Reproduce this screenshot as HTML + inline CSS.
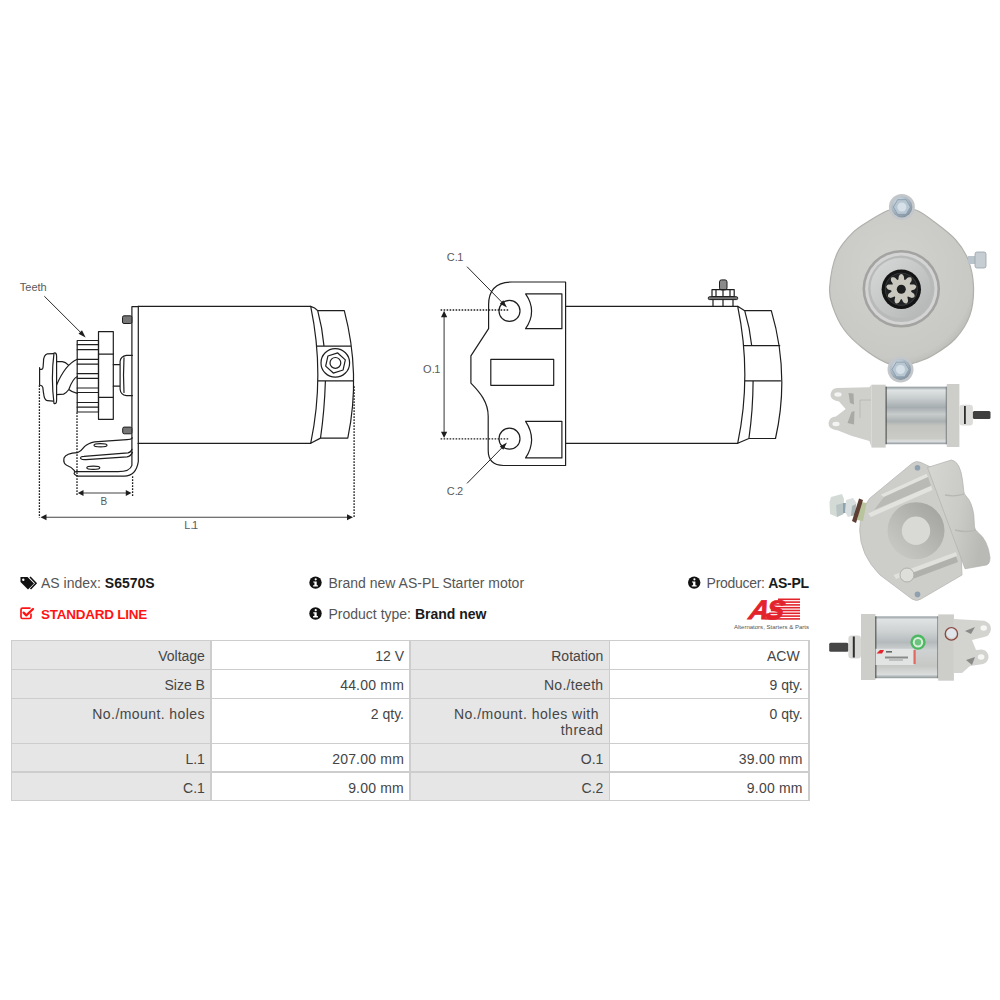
<!DOCTYPE html>
<html><head><meta charset="utf-8">
<style>
html,body{margin:0;padding:0;background:#fff;}
body{width:1000px;height:1000px;position:relative;overflow:hidden;font-family:"Liberation Sans",sans-serif;}
.t{position:absolute;white-space:nowrap;font-size:14px;line-height:16px;color:#555;}
.t b{color:#1a1a1a;font-weight:bold;}
.red{color:#ff1414;font-weight:bold;}
.c{position:absolute;box-sizing:border-box;font-size:14px;color:#454545;text-align:right;line-height:16px;}
svg{position:absolute;left:0;top:0;}
</style></head>
<body>
<div style="position:absolute;left:11.5px;top:640.5px;width:199.4px;height:160.0px;background:#e6e6e6"></div>
<div style="position:absolute;left:210.9px;top:640.5px;width:199.1px;height:160.0px;background:#ffffff"></div>
<div style="position:absolute;left:410.0px;top:640.5px;width:199.39999999999998px;height:160.0px;background:#e6e6e6"></div>
<div style="position:absolute;left:609.4px;top:640.5px;width:199.30000000000007px;height:160.0px;background:#ffffff"></div>
<div style="position:absolute;left:10.6px;top:639.6px;width:799.0px;height:1.8px;background:#cdcdcd"></div>
<div style="position:absolute;left:10.6px;top:668.6px;width:799.0px;height:1.8px;background:#cdcdcd"></div>
<div style="position:absolute;left:10.6px;top:697.6px;width:799.0px;height:1.8px;background:#cdcdcd"></div>
<div style="position:absolute;left:10.6px;top:742.6px;width:799.0px;height:1.8px;background:#cdcdcd"></div>
<div style="position:absolute;left:10.6px;top:771.1px;width:799.0px;height:1.8px;background:#cdcdcd"></div>
<div style="position:absolute;left:10.6px;top:799.6px;width:799.0px;height:1.8px;background:#cdcdcd"></div>
<div style="position:absolute;left:10.6px;top:639.6px;width:1.8px;height:161.8px;background:#cdcdcd"></div>
<div style="position:absolute;left:210.0px;top:639.6px;width:1.8px;height:161.8px;background:#cdcdcd"></div>
<div style="position:absolute;left:409.1px;top:639.6px;width:1.8px;height:161.8px;background:#cdcdcd"></div>
<div style="position:absolute;left:608.5px;top:639.6px;width:1.8px;height:161.8px;background:#cdcdcd"></div>
<div style="position:absolute;left:807.8000000000001px;top:639.6px;width:1.8px;height:161.8px;background:#cdcdcd"></div>
<div class="c" style="right:795.1px;top:648.45px;width:187.4px;">Voltage</div>
<div class="c" style="right:596.0px;top:648.45px;width:187.1px;">12 V</div>
<div class="c" style="right:396.6px;top:648.45px;width:187.39999999999998px;">Rotation</div>
<div class="c" style="right:200.29999999999995px;top:648.45px;width:187.30000000000007px;">ACW</div>
<div class="c" style="right:795.1px;top:677.45px;width:187.4px;">Size B</div>
<div class="c" style="right:596.0px;top:677.45px;width:187.1px;letter-spacing:0.2px;">44.00 mm</div>
<div class="c" style="right:396.6px;top:677.45px;width:187.39999999999998px;letter-spacing:0.3px;">No./teeth</div>
<div class="c" style="right:197.29999999999995px;top:677.45px;width:187.30000000000007px;">9 qty.</div>
<div class="c" style="right:795.1px;top:706.45px;width:187.4px;letter-spacing:0.42px;">No./mount. holes</div>
<div class="c" style="right:596.0px;top:706.45px;width:187.1px;">2 qty.</div>
<div class="c" style="right:396.6px;top:706.45px;width:187.39999999999998px;letter-spacing:0.5px;">No./mount. holes with&nbsp;<br>thread</div>
<div class="c" style="right:197.29999999999995px;top:706.45px;width:187.30000000000007px;">0 qty.</div>
<div class="c" style="right:795.1px;top:751.45px;width:187.4px;">L.1</div>
<div class="c" style="right:596.0px;top:751.45px;width:187.1px;letter-spacing:0.2px;">207.00 mm</div>
<div class="c" style="right:396.6px;top:751.45px;width:187.39999999999998px;">O.1</div>
<div class="c" style="right:197.29999999999995px;top:751.45px;width:187.30000000000007px;letter-spacing:0.2px;">39.00 mm</div>
<div class="c" style="right:795.1px;top:779.95px;width:187.4px;">C.1</div>
<div class="c" style="right:596.0px;top:779.95px;width:187.1px;letter-spacing:0.2px;">9.00 mm</div>
<div class="c" style="right:396.6px;top:779.95px;width:187.39999999999998px;">C.2</div>
<div class="c" style="right:197.29999999999995px;top:779.95px;width:187.30000000000007px;letter-spacing:0.2px;">9.00 mm</div>
<svg width="1000" height="1000" viewBox="0 0 1000 1000">
<g transform="translate(0,0.3)">
<path fill="none" stroke="#1e1e1e" stroke-width="1.2" stroke-linejoin="round" stroke-linecap="round" d="M138,306 L310.7,306 M138,443 L310.7,443"/>
<path fill="none" stroke="#1e1e1e" stroke-width="1.2" stroke-linejoin="round" stroke-linecap="round" d="M310.7,306 Q325,374.5 310.7,443 M310.7,306 Q315,307 317.7,310.3 Q322.5,328 324,345.8 M325.4,380.6 Q324.5,410 320.5,437.8 L310.7,443 M317.7,310.3 L344.3,310.3 Q361,374 347.8,437.8 L320.5,437.8 M316.6,345.8 L351.3,345.8 M317.8,380.6 L353.5,380.6"/>
<circle fill="none" stroke="#1e1e1e" stroke-width="1.2" stroke-linejoin="round" stroke-linecap="round" cx="335.3" cy="362.6" r="14.3"/>
<polygon fill="none" stroke="#1e1e1e" stroke-width="1.2" stroke-linejoin="round" stroke-linecap="round" points="337.71,352.64 345.32,359.59 343.11,369.65 333.29,372.76 325.68,365.81 327.89,355.75"/>
<circle fill="none" stroke="#1e1e1e" stroke-width="1.2" stroke-linejoin="round" stroke-linecap="round" cx="335.4" cy="362.6" r="5.4"/>
<path fill="none" stroke="#1e1e1e" stroke-width="1.2" stroke-linejoin="round" stroke-linecap="round" d="M131.9,306.4 L138.3,306.4 M138.3,306 L138.3,461.4 Q136,475.8 124.3,475.8 L78,475.8 Q73,474 74.4,472.2 M131.9,306.4 L131.9,465 Q130,471.3 118,471.3 L76.2,471.3"/>
<rect x="122.5" y="315.5" width="9.4" height="7.7" rx="1.5" fill="#777" stroke="#1e1e1e" stroke-width="1"/>
<rect x="122.7" y="426.8" width="9.2" height="6.7" rx="1.5" fill="#777" stroke="#1e1e1e" stroke-width="1"/>
<path fill="none" stroke="#1e1e1e" stroke-width="1.2" stroke-linejoin="round" stroke-linecap="round" d="M132.4,437.6 Q131,439.4 127,439.4 L94.6,441.6 Q88,443 84.7,446.1 Q81,451 77.5,452.4 Q66,453 64,457.8 Q63,463 66.7,465 Q72,467 74.4,470.4 Q74,472 76.2,471.3"/>
<path fill="none" stroke="#1e1e1e" stroke-width="1.2" stroke-linejoin="round" stroke-linecap="round" d="M80.7,458.3 Q80,456 84,456 L128,452.5 Q131,452 132,449 M80.7,458.3 Q82,459.5 86,459.3 L127,456.5 Q131,456 132.4,452"/>
<ellipse fill="none" stroke="#1e1e1e" stroke-width="1.2" stroke-linejoin="round" stroke-linecap="round" cx="100.5" cy="445" rx="6.5" ry="1.6"/>
<ellipse fill="none" stroke="#1e1e1e" stroke-width="1.2" stroke-linejoin="round" stroke-linecap="round" cx="93.3" cy="467.5" rx="6.5" ry="1.6"/>
<rect fill="none" stroke="#1e1e1e" stroke-width="1.2" stroke-linejoin="round" stroke-linecap="round" x="98.5" y="331.3" width="14.8" height="87.7"/>
<path fill="none" stroke="#1e1e1e" stroke-width="1.2" stroke-linejoin="round" stroke-linecap="round" d="M98.5,353.9 L113.3,353.9 M98.5,397 L113.3,397"/>
<rect fill="none" stroke="#1e1e1e" stroke-width="1.2" stroke-linejoin="round" stroke-linecap="round" x="77.2" y="340.2" width="21.3" height="71.5"/>
<path fill="none" stroke="#1e1e1e" stroke-width="1.2" stroke-linejoin="round" stroke-linecap="round" d="M77.2,344.4 L98.5,344.4 M77.2,349.4 L98.5,349.4 M77.2,359.1 L98.5,359.1 M77.2,363.9 L98.5,363.9 M77.2,373.3 L98.5,373.3 M77.2,378 L98.5,378 M77.2,387.7 L98.5,387.7 M77.2,392.2 L98.5,392.2 M77.2,402.2 L98.5,402.2 M77.2,406.9 L98.5,406.9"/>
<path fill="none" stroke="#1e1e1e" stroke-width="1.2" stroke-linejoin="round" stroke-linecap="round" d="M113.3,364.4 L120.1,364.4 M113.3,385.9 L120.1,385.9 M132.4,355 L126.4,355 Q120.6,356 120.1,361 L120.1,389 Q120.6,394.5 126.4,395.4 L132.4,395.4 M124,357.6 Q123,375 124,392.2"/>
<path fill="none" stroke="#1e1e1e" stroke-width="1.2" stroke-linejoin="round" stroke-linecap="round" d="M54,352.8 Q56.6,352 56.6,356 L56.6,400 Q56.6,404 54,403.2 Q52.4,390 52.4,378 Q52.4,365 54,352.8 Z"/>
<path fill="none" stroke="#1e1e1e" stroke-width="1.2" stroke-linejoin="round" stroke-linecap="round" d="M53.5,353.3 L47.4,353.5 C44.5,354.5 43.5,358 43.5,361.3 L43.1,366.5 Q43,369 41.5,369 L39.6,369 L39.6,367.4 M39.6,369 L39.6,384.7 Q42.5,385.4 42.8,387 L43.5,392.5 C44,397 45.5,400.3 47.4,400.3 L53.2,400.9"/>
<path fill="none" stroke="#1e1e1e" stroke-width="1.2" stroke-linejoin="round" stroke-linecap="round" d="M56.6,361.3 L62.3,361.3 Q65.5,361.8 68.2,364.5 M56.6,394.4 L63.6,393.8 Q66.5,392.5 68.8,389.2 M56.6,384.7 C62,372 68,363 77.3,359 M68.8,389.2 C71,383 73.5,378 77.3,376.2 M68.8,389.2 Q72,392 77.3,393.1"/>
<path fill="none" stroke="#1e1e1e" stroke-width="1.3" stroke-dasharray="1.6 1.4" d="M39.4,385 L39.4,517.4 M77,412 L77,496 M132.6,476 L132.6,496 M354.1,386 L354.1,517"/>
<path fill="none" stroke="#444" stroke-width="1.1" d="M80,492.7 L129,492.7 M43,517 L350,517"/>
<path fill="#1e1e1e" d="M77.8,492.7 L83.5,489.8 L83.5,495.6 Z M131.5,492.7 L125.8,489.8 L125.8,495.6 Z M40.5,517 L46.5,514 L46.5,520 Z M353,517 L347,514 L347,520 Z"/>
<path fill="none" stroke="#1e1e1e" stroke-width="0.95" d="M44.3,295.9 L83,334.5"/>
<path fill="#1e1e1e" d="M85.6,337.2 L78.5,333.5 L82,330 Z"/>
<path fill="none" stroke="#1e1e1e" stroke-width="1.2" stroke-linejoin="round" stroke-linecap="round" d="M512,281.7 L565.6,281.7 L565.6,465.2 L503.5,465.2 Q488.2,465.2 488.2,450 L488.2,415.9 C488.2,402 480,392 470.9,382.8 L470.9,355.6 L488.6,328.4 L488.6,304.6 Q488.6,281.7 512,281.7 Z"/>
<circle fill="none" stroke="#1e1e1e" stroke-width="1.2" stroke-linejoin="round" stroke-linecap="round" cx="509.5" cy="310.6" r="10.5"/>
<circle fill="none" stroke="#1e1e1e" stroke-width="1.2" stroke-linejoin="round" stroke-linecap="round" cx="509.5" cy="438.4" r="10.5"/>
<path fill="none" stroke="#1e1e1e" stroke-width="1.2" stroke-linejoin="round" stroke-linecap="round" d="M525.6,293.6 L561.9,293.6 L561.9,328.4 L525.6,328.4 Q537.6,311 525.6,293.6 Z"/>
<path fill="none" stroke="#1e1e1e" stroke-width="1.2" stroke-linejoin="round" stroke-linecap="round" d="M525.6,421 L561.9,421 L561.9,457.6 L525.6,457.6 Q537.6,439.3 525.6,421 Z"/>
<rect fill="none" stroke="#1e1e1e" stroke-width="1.2" stroke-linejoin="round" stroke-linecap="round" x="490.8" y="359" width="62.9" height="26"/>
<path fill="none" stroke="#1e1e1e" stroke-width="1.2" stroke-linejoin="round" stroke-linecap="round" d="M565.6,306 L737.7,306 M565.6,443 L737.7,443"/>
<path fill="none" stroke="#1e1e1e" stroke-width="1.2" stroke-linejoin="round" stroke-linecap="round" d="M737.7,306 Q752,374.5 737.7,443 M737.7,306 L744.7,310.4 L771.3,310.4 Q790,374 775.5,438.2 L748.9,438.2 L737.7,443 M744.7,310.4 Q750,328 751.7,345.4 M753.1,380.5 Q753,410 748.9,438.2 M744,345.4 L779.7,345.4 M744.6,380.5 L780.5,380.5"/>
<rect x="719.5" y="279.6" width="7.5" height="10" rx="2" fill="#8a8a8a" stroke="#1e1e1e" stroke-width="1"/>
<rect fill="none" stroke="#1e1e1e" stroke-width="1.2" stroke-linejoin="round" stroke-linecap="round" x="712" y="289.4" width="22.2" height="7"/>
<path fill="none" stroke="#1e1e1e" stroke-width="1.2" stroke-linejoin="round" stroke-linecap="round" d="M716,289.4 L716,296.4 M723,289.4 L723,296.4 M730,289.4 L730,296.4 M713,299.2 L713,306 M733,299.2 L733,306 M723,299.2 L723,306"/>
<rect x="708.3" y="296.4" width="29.4" height="2.9" rx="1.2" fill="#777" stroke="#1e1e1e" stroke-width="1"/>
<path fill="none" stroke="#1e1e1e" stroke-width="1.3" stroke-dasharray="1.6 1.4" d="M440.6,309.7 L509.5,309.7 M440.6,438.5 L509.5,438.5"/>
<path fill="none" stroke="#555" stroke-width="1.2" d="M444.1,315 L444.1,433"/>
<path fill="#1e1e1e" d="M444.1,310.5 L441,317 L447.2,317 Z M444.1,437.8 L441,431.5 L447.2,431.5 Z"/>
<path fill="none" stroke="#1e1e1e" stroke-width="0.95" d="M467,266.4 L504.5,304.6 M467,483.1 L504.5,444.9"/>
<path fill="#1e1e1e" d="M507,307.2 L499.8,303.4 L503.3,300 Z M507,442.3 L499.8,446.1 L503.3,449.5 Z"/>
</g>
<path fill="#111" d="M20.5,577 L27.5,577 L34,583.5 L28,589.5 L20.5,582 Z"/>
<circle cx="23.3" cy="579.7" r="1.2" fill="#fff"/>
<path fill="none" stroke="#111" stroke-width="1.6" d="M30,577 L36,583.3 L30.5,589"/>
<path fill="none" stroke="#ff1414" stroke-width="1.7" d="M30.5,608.2 L22.5,608.2 Q21,608.2 21,609.7 L21,617 Q21,618.5 22.5,618.5 L29.5,618.5 Q31,618.5 31,617 L31,613.5"/>
<path fill="none" stroke="#ff1414" stroke-width="2.3" stroke-linecap="round" stroke-linejoin="round" d="M23.6,612.6 L26.3,615.4 L33,609"/>
<circle cx="315.5" cy="582.6" r="6.2" fill="#111"/>
<circle cx="315.7" cy="579.3000000000001" r="1.1" fill="#fff"/>
<path fill="#fff" d="M313.3,581.4 L316.7,581.4 L316.7,585.2 L317.9,585.2 L317.9,586.5 L313.1,586.5 L313.1,585.2 L314.4,585.2 L314.4,582.6 L313.3,582.6 Z"/>
<circle cx="315.5" cy="613.5" r="6.2" fill="#111"/>
<circle cx="315.7" cy="610.2" r="1.1" fill="#fff"/>
<path fill="#fff" d="M313.3,612.3 L316.7,612.3 L316.7,616.1 L317.9,616.1 L317.9,617.4 L313.1,617.4 L313.1,616.1 L314.4,616.1 L314.4,613.5 L313.3,613.5 Z"/>
<circle cx="694.2" cy="582.6" r="6.2" fill="#111"/>
<circle cx="694.4000000000001" cy="579.3000000000001" r="1.1" fill="#fff"/>
<path fill="#fff" d="M692.0,581.4 L695.4000000000001,581.4 L695.4000000000001,585.2 L696.6,585.2 L696.6,586.5 L691.8000000000001,586.5 L691.8000000000001,585.2 L693.1,585.2 L693.1,582.6 L692.0,582.6 Z"/>
<text x="748" y="619.5" font-family="Liberation Sans" font-weight="bold" font-style="italic" font-size="27" fill="#e3232b" stroke="#e3232b" stroke-width="0.9" letter-spacing="-3" transform="translate(748,619.5) skewX(-12) translate(-748,-619.5)">AS</text>
<rect x="778.0" y="598.5" width="22.0" height="1.6" fill="#e3232b"/>
<rect x="776.2" y="601.3" width="23.799999999999955" height="1.6" fill="#e3232b"/>
<rect x="774.4" y="604.1" width="25.600000000000023" height="1.6" fill="#e3232b"/>
<rect x="772.6" y="606.9" width="27.399999999999977" height="1.6" fill="#e3232b"/>
<rect x="770.8" y="609.7" width="29.200000000000045" height="1.6" fill="#e3232b"/>
<rect x="769.0" y="612.5" width="31.0" height="1.6" fill="#e3232b"/>
<rect x="767.2" y="615.3" width="32.799999999999955" height="1.6" fill="#e3232b"/>
<rect x="765.4" y="618.1" width="34.60000000000002" height="1.6" fill="#e3232b"/>
<text x="734" y="628.5" font-family="Liberation Sans" font-size="5.3" fill="#555" textLength="75" lengthAdjust="spacingAndGlyphs">Alternators, Starters &amp; Parts</text>
<defs>
<radialGradient id="bodyg" cx="0.45" cy="0.4" r="0.65"><stop offset="0" stop-color="#d2d2cf"/><stop offset="0.85" stop-color="#c8c8c5"/><stop offset="1" stop-color="#b3b3b0"/></radialGradient>
<linearGradient id="cang" x1="0" y1="0" x2="0" y2="1"><stop offset="0" stop-color="#8b9699"/><stop offset="0.06" stop-color="#dfe3e4"/><stop offset="0.2" stop-color="#c8cdce"/><stop offset="0.36" stop-color="#a6adb0"/><stop offset="0.48" stop-color="#c7cbcc"/><stop offset="0.6" stop-color="#abb1b2"/><stop offset="0.68" stop-color="#c3c4bf"/><stop offset="0.9" stop-color="#cacbc7"/><stop offset="0.95" stop-color="#dde0e1"/><stop offset="1" stop-color="#8d9598"/></linearGradient>
<linearGradient id="capg" x1="0" y1="0" x2="1" y2="0"><stop offset="0" stop-color="#c4c4c0"/><stop offset="0.5" stop-color="#d6d6d2"/><stop offset="1" stop-color="#bdbdb9"/></linearGradient>
<linearGradient id="bossg" x1="0" y1="0" x2="1" y2="1"><stop offset="0" stop-color="#d8d9d9"/><stop offset="1" stop-color="#b3b5b5"/></linearGradient>
<linearGradient id="cang4" x1="0" y1="0" x2="0" y2="1"><stop offset="0" stop-color="#8f999c"/><stop offset="0.05" stop-color="#dfe3e4"/><stop offset="0.25" stop-color="#cdd1d2"/><stop offset="0.42" stop-color="#b4babc"/><stop offset="0.55" stop-color="#cfd2d2"/><stop offset="0.8" stop-color="#c6c8c5"/><stop offset="0.94" stop-color="#dadddd"/><stop offset="1" stop-color="#8d9598"/></linearGradient>
<radialGradient id="boltg" cx="0.4" cy="0.35" r="0.7"><stop offset="0" stop-color="#e6eef5"/><stop offset="0.6" stop-color="#a9b8c6"/><stop offset="1" stop-color="#7d8c9a"/></radialGradient>
</defs>
<path fill="url(#bodyg)" stroke="#b0b0ac" stroke-width="1.2" d="M829.6,288 C829.00,296.98 830.80,300.98 833.2,307.9 C835.60,314.82 839.20,322.90 844,329.5 C848.80,336.10 855.10,342.00 862,347.5 C868.90,353.00 878.98,359.42 885.4,362.5 C891.82,365.58 895.42,366.00 900.5,366 C905.58,366.00 910.33,364.38 915.9,362.5 C921.47,360.62 927.30,358.70 933.9,354.7 C940.50,350.70 949.50,345.10 955.5,338.5 C961.50,331.90 966.90,323.80 969.9,315.1 C972.90,306.40 973.82,295.58 973.5,286.3 C973.18,277.02 971.00,267.18 968,259.4 C965.00,251.62 961.18,245.90 955.5,239.6 C949.82,233.30 940.20,226.40 933.9,221.6 C927.60,216.80 923.02,213.23 917.7,210.8 C912.38,208.37 907.08,207.00 902,207 C896.92,207.00 892.37,208.67 887.2,210.8 C882.03,212.93 876.70,216.20 871,219.8 C865.30,223.40 858.70,226.70 853,232.4 C847.30,238.10 840.70,244.73 836.8,254 C832.90,263.27 830.20,279.02 829.6,288 Z"/>
<circle cx="901.3" cy="288.8" r="38.8" fill="#a3a3a1"/>
<circle cx="901.3" cy="288.8" r="36.2" fill="#d3d4d3"/>
<circle cx="901.3" cy="288.8" r="33.2" fill="#b8baba"/>
<circle cx="900.5" cy="288" r="30" fill="url(#bossg)"/>
<circle cx="901.3" cy="289.2" r="19.7" fill="#141414"/>
<circle cx="901.3" cy="289.2" r="16.5" fill="#3a3d40"/>
<circle cx="901.3" cy="289.2" r="15.6" fill="#1f2123"/>
<path fill="#c9c7be" d="M901.3,274.0 C902.08,274.00 903.08,274.91 903.64,275.91 C904.20,276.91 903.91,279.72 904.65,279.99 C905.38,280.26 906.98,277.91 908.05,277.51 C909.12,277.11 910.47,277.06 911.07,277.56 C911.67,278.06 911.85,279.40 911.64,280.52 C911.43,281.64 909.40,283.62 909.79,284.3 C910.18,284.98 912.91,284.20 913.99,284.58 C915.07,284.96 916.13,285.79 916.27,286.56 C916.40,287.33 915.69,288.48 914.8,289.2 C913.91,289.92 911.09,290.13 910.95,290.9 C910.82,291.67 913.40,292.84 913.99,293.82 C914.58,294.80 914.85,296.12 914.46,296.8 C914.07,297.48 912.78,297.89 911.64,297.88 C910.50,297.87 908.20,296.21 907.6,296.71 C907.00,297.21 908.23,299.76 908.05,300.89 C907.87,302.02 907.24,303.21 906.5,303.48 C905.76,303.75 904.51,303.24 903.64,302.49 C902.77,301.74 902.08,299.00 901.3,299.0 C900.52,299.00 899.83,301.74 898.96,302.49 C898.09,303.24 896.84,303.75 896.1,303.48 C895.37,303.21 894.73,302.02 894.55,300.89 C894.37,299.76 895.60,297.21 895.0,296.71 C894.40,296.21 892.10,297.87 890.96,297.88 C889.82,297.89 888.53,297.48 888.14,296.8 C887.75,296.12 888.02,294.80 888.61,293.82 C889.20,292.84 891.78,291.67 891.65,290.9 C891.51,290.13 888.69,289.92 887.8,289.2 C886.91,288.48 886.20,287.33 886.33,286.56 C886.47,285.79 887.53,284.96 888.61,284.58 C889.69,284.20 892.42,284.98 892.81,284.3 C893.20,283.62 891.17,281.64 890.96,280.52 C890.75,279.40 890.93,278.06 891.53,277.56 C892.13,277.06 893.48,277.11 894.55,277.51 C895.62,277.91 897.22,280.26 897.95,279.99 C898.69,279.72 898.40,276.91 898.96,275.91 C899.52,274.91 900.52,274.00 901.3,274.0 Z"/>
<circle cx="901.3" cy="289.2" r="4.5" fill="#1e1e1e"/>
<circle cx="901.9" cy="207" r="13" fill="#c3c7ca"/>
<circle cx="901.9" cy="207" r="10.4" fill="url(#boltg)"/>
<polygon fill="#b8c6d2" stroke="#8797a5" stroke-width="0.8" points="910.40,207.00 906.15,214.36 897.65,214.36 893.40,207.00 897.65,199.64 906.15,199.64"/>
<circle cx="901.9" cy="207" r="4.5" fill="#d6e0e8"/>
<circle cx="900.5" cy="369.5" r="13" fill="#c3c7ca"/>
<circle cx="900.5" cy="369.5" r="10.4" fill="url(#boltg)"/>
<polygon fill="#b8c6d2" stroke="#8797a5" stroke-width="0.8" points="909.00,369.50 904.75,376.86 896.25,376.86 892.00,369.50 896.25,362.14 904.75,362.14"/>
<circle cx="900.5" cy="369.5" r="4.5" fill="#d6e0e8"/>
<rect x="968" y="256" width="10" height="8" fill="#b9c3ca"/>
<rect x="975" y="252" width="11" height="16" rx="2" fill="#c6cdd3" stroke="#98a2aa" stroke-width="0.8"/>
<path fill="#cfcfcc" d="M837,388 L869.4,387.3 L871.6,384.7 L871.6,447.6 L869.4,440.9 L852,436 L838,430.5 Q828,429 828.5,423 Q829.5,416.5 836,416.5 L845.7,409 L839,401.5 Q830,400 830.5,394 Q832,388 837,388 Z"/>
<ellipse cx="838" cy="394.5" rx="3.6" ry="2.2" fill="#f4f4f2"/><ellipse cx="836" cy="424" rx="3.6" ry="2.2" fill="#f4f4f2"/>
<path fill="#a9a9a6" d="M848.5,393 L853.5,393.5 L854,404.5 L850,403 Z M851.5,412 L854.5,411 L854,424.5 L847.5,423 Z"/>
<path fill="none" stroke="#b5b5b2" stroke-width="0.8" d="M860,400 L871,400 M860,400 L860,418"/>
<rect x="871.6" y="384.7" width="14.1" height="62.9" fill="#cdcdca"/>
<rect x="885.7" y="386.7" width="61.1" height="57.5" fill="url(#cang)"/>
<rect x="885.5" y="386.7" width="1.2" height="57.5" fill="#555"/>
<rect x="945.8" y="386.7" width="1" height="57.5" fill="#6a6e70"/>
<rect x="946.8" y="384" width="12.6" height="63" fill="#cdcdca"/>
<rect x="959.4" y="404.7" width="13.5" height="20.7" rx="3" fill="#dcdcda"/>
<rect x="964" y="406" width="1.8" height="18" fill="#2e2e2e"/>
<rect x="972.9" y="411" width="17.6" height="8" rx="1.5" fill="#3e3e3e"/>
<path fill="#cdcdca" stroke="#b8b8b5" stroke-width="0.8" d="M912,463.5 Q916,460 921,462.5 L958,480 L962,575 L921,599 Q916.7,602 912,599 L880,575 Q860,555 859.7,530 Q860,512 869.5,498.5 Z"/>
<defs><linearGradient id="lobeg" x1="0" y1="0" x2="1" y2="0.3"><stop offset="0" stop-color="#d6d6d3"/><stop offset="0.6" stop-color="#cacac7"/><stop offset="1" stop-color="#b9b9b6"/></linearGradient></defs>
<path fill="url(#lobeg)" stroke="#b0b0ad" stroke-width="0.7" d="M927.5,467.5 L951.3,460 Q960,461 962.5,480 L963.8,491.3 Q964,494 966,496 Q972,502 973.8,515 L974.5,527 Q975,530 977.5,532 Q988,540 990,557.5 Q990,564 986.3,565 L965,568.8 Z"/>
<path fill="none" stroke="#b6b6b3" stroke-width="1.3" d="M945,495 Q955,497 964,494 M955,530 Q966,533 976,530"/>
<defs><linearGradient id="recg" x1="1" y1="0" x2="0" y2="1"><stop offset="0" stop-color="#9f9f9c"/><stop offset="0.55" stop-color="#b9b9b6"/><stop offset="1" stop-color="#cdcdca"/></linearGradient></defs>
<circle cx="916" cy="530.7" r="28.5" fill="url(#recg)"/>
<circle cx="916" cy="530.7" r="14.2" fill="#d9d9d6"/>
<path fill="#e2e2df" d="M880.7,494.7 L926.5,473.7 L928,477 L884,497 Z M868,513.5 L931,485.7 L932.5,490 L871,517 Z"/>
<path fill="#b9b9b6" d="M884,497 L928,477 L931,485.7 L874,510 Z"/>
<path fill="#b0b0ad" d="M905,572 L955,553 L958,562 L910,580 Z"/>
<path fill="#e0e0dd" d="M893.5,575 L956,552 L957,556 L896,579 Z"/>
<circle cx="907" cy="575" r="7" fill="#dededb" stroke="#b0b0ad" stroke-width="1"/>
<circle cx="917.5" cy="467.7" r="2.8" fill="#8fa0ae"/><circle cx="917.5" cy="594.4" r="2.8" fill="#8fa0ae"/>
<path fill="#d4dbd7" d="M831,497 L842,494 L844,499 L843.5,514 L837,517 L830,514 L829.5,502 Z"/>
<path fill="#b9c4c4" d="M836,505 L843.5,503 L843.5,514 L837,517 Z"/>
<rect x="843" y="503" width="4" height="10" fill="#8fa2ae"/>
<path fill="#d9dfde" d="M846,500 L853,498 L856.5,503 L855.5,515 L848,517 L845,512 Z"/>
<path fill="#a9b6b8" d="M852,506 L856,504 L855.5,515 L851,516 Z"/>
<path fill="#b8c49c" d="M861,502 L866.5,503 L863,521 L857,520 Z"/>
<path fill="#5e3d32" d="M859,498.5 L863,500 L856,523 L852,521 Z"/>
<rect x="829.2" y="642.8" width="19.2" height="9" rx="1.5" fill="#454545"/>
<rect x="848.4" y="635.6" width="12.6" height="22.8" rx="3" fill="#d8d8d6"/>
<rect x="852.8" y="636.5" width="2" height="21" fill="#2e2e2e"/>
<rect x="861" y="614" width="14.4" height="66" fill="#cdcdca"/>
<rect x="875.4" y="616.4" width="63" height="61.8" fill="url(#cang4)"/>
<rect x="875.2" y="616.4" width="1.2" height="61.8" fill="#555"/>
<rect x="937.4" y="616.4" width="1" height="61.8" fill="#6a6e70"/>
<rect x="938.2" y="614.4" width="15.7" height="66.3" fill="#cdcdca"/>
<path fill="#d3d3d0" d="M953.9,619 L984.5,620.7 Q991,623 991,629 Q990,636 984,637 L972,640 L976,650 L982,649.5 Q989,651 988.5,658 Q987,664 980,664.5 L970,666 L962,673 L953.9,673 Z"/>
<ellipse cx="983.7" cy="628" rx="3.3" ry="2.8" fill="#f6f6f4"/><ellipse cx="981.1" cy="657" rx="3.3" ry="2.8" fill="#f6f6f4"/>
<path fill="#8a8a88" d="M965,631 L975,627 L971,634 Z M966,660 L975,657 L972,665 Z"/>
<circle cx="951.4" cy="633.9" r="6.2" fill="none" stroke="#8c4a40" stroke-width="1.3"/>
<circle cx="951.4" cy="633.4" r="4.8" fill="#dfe5ea"/>
<rect x="875.6" y="648.8" width="38.2" height="16.2" fill="#e2e4e4"/>
<path fill="#e3232b" d="M876.5,653.5 L880,650 L884,650 L882,653.5 Z"/>
<rect x="886" y="651" width="6" height="1.6" fill="#666"/>
<rect x="885" y="656.5" width="23" height="2" fill="#8a8a8a"/>
<rect x="889" y="659.5" width="14" height="1" fill="#999"/>
<rect x="913.5" y="650" width="2.2" height="14" fill="#e06a60"/>
<circle cx="918" cy="642.2" r="7.6" fill="#4cb862"/>
<circle cx="918" cy="642.2" r="5.2" fill="#d9efdc"/>
<circle cx="918" cy="642.2" r="3.2" fill="#6cc47e"/>
</svg>
<div style="position:absolute;white-space:nowrap;font-size:11px;line-height:11px;color:#5a5a5a;left:19.8px;top:281.5px;">Teeth</div>
<div style="position:absolute;white-space:nowrap;font-size:11px;line-height:11px;color:#5a5a5a;left:100.5px;top:496px;font-size:10px;">B</div>
<div style="position:absolute;white-space:nowrap;font-size:11px;line-height:11px;color:#5a5a5a;left:184.3px;top:520px;">L.<span style="margin-left:-1.4px">1</span></div>
<div style="position:absolute;white-space:nowrap;font-size:11px;line-height:11px;color:#5a5a5a;left:446.7px;top:251.5px;">C.<span style="margin-left:-0.5px">1</span></div>
<div style="position:absolute;white-space:nowrap;font-size:11px;line-height:11px;color:#5a5a5a;left:423.1px;top:364px;">O.<span style="margin-left:-0.5px">1</span></div>
<div style="position:absolute;white-space:nowrap;font-size:11px;line-height:11px;color:#5a5a5a;left:446.7px;top:485.5px;">C.<span style="margin-left:-0.6px">2</span></div>
<div class="t" style="left:41px;top:575px;">AS index: <b>S6570S</b></div>
<div class="t red" style="left:41px;top:606.5px;font-size:13.5px;letter-spacing:-0.25px;">STANDARD LINE</div>
<div class="t" style="left:328.5px;top:575px;">Brand new AS-PL Starter motor</div>
<div class="t" style="left:328.5px;top:606px;">Product type: <b>Brand new</b></div>
<div class="t" style="left:706.6px;top:575px;letter-spacing:-0.3px;">Producer: <b>AS-PL</b></div>
</body></html>
